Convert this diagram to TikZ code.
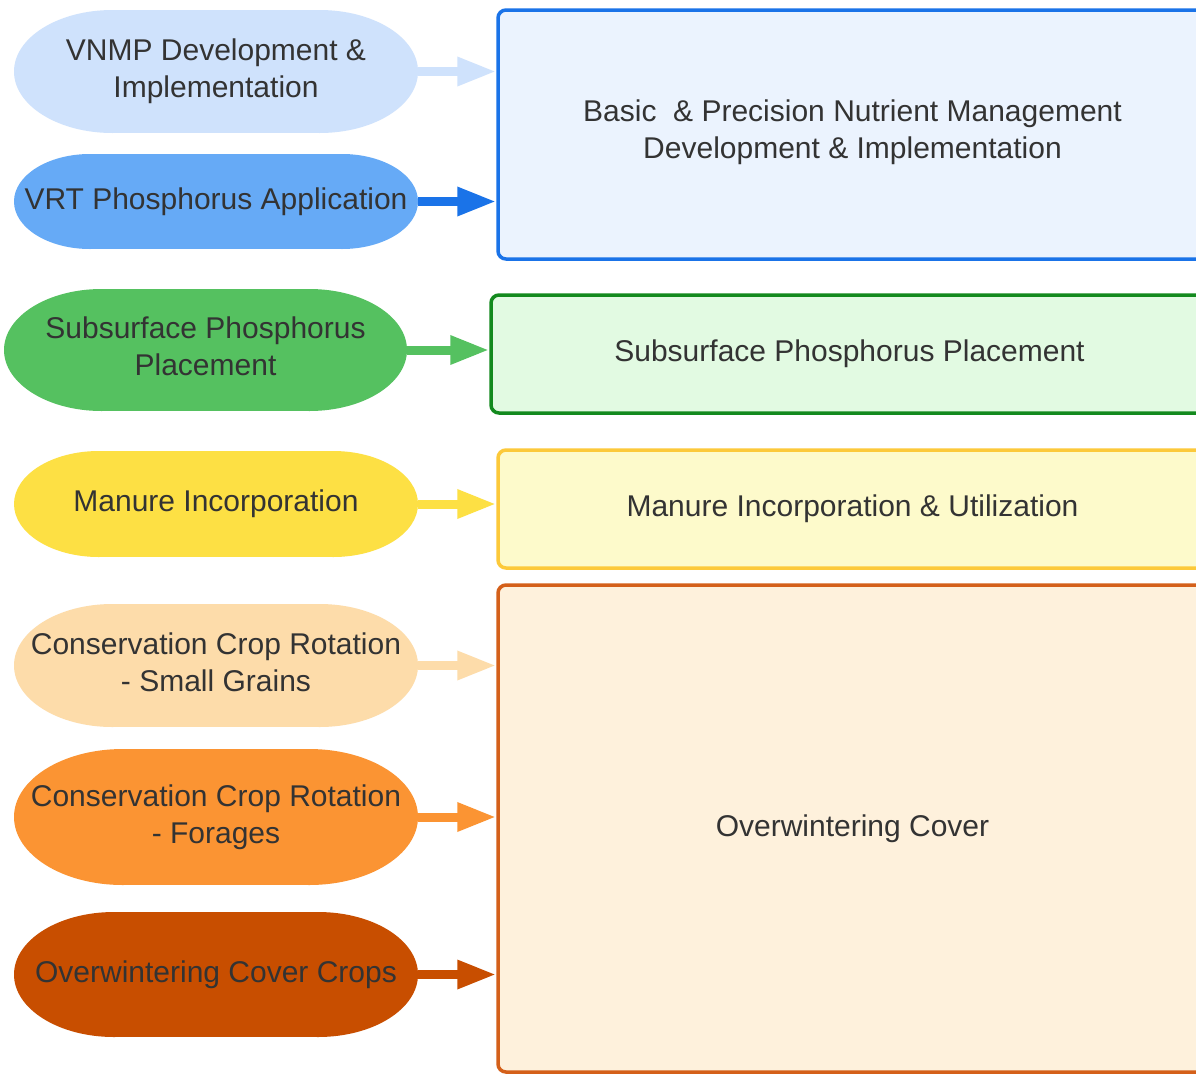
\documentclass[tikz,border=0pt]{standalone}
\usepackage{fontspec}
\setmainfont{Liberation Sans}
\usetikzlibrary{arrows.meta}
\definecolor{txt}{HTML}{333333}
\definecolor{c1}{HTML}{CFE2FC}
\definecolor{c2}{HTML}{66AAF6}
\definecolor{c2d}{HTML}{1A73E8}
\definecolor{c3}{HTML}{55C160}
\definecolor{c4}{HTML}{FDE044}
\definecolor{c5}{HTML}{FDDCAA}
\definecolor{c6}{HTML}{FB9433}
\definecolor{c7}{HTML}{C84E00}
\definecolor{b1f}{HTML}{EBF3FE}
\definecolor{b2d}{HTML}{138A1E}
\definecolor{b2f}{HTML}{E2FAE2}
\definecolor{b3d}{HTML}{FCC93A}
\definecolor{b3f}{HTML}{FDFACB}
\definecolor{b4d}{HTML}{D4601A}
\definecolor{b4f}{HTML}{FEF1DC}
% pill outline: x, y (centre), w, h, colour
\newcommand\pillfill[5]{%
  \pgfmathsetmacro\prx{0.8*#4}%
  \pgfmathsetmacro\pry{#4/2}%
  \pgfmathsetmacro\pxl{#1-#3/2+\prx}%
  \pgfmathsetmacro\pxr{#1+#3/2-\prx}%
  \fill[#5] (\pxl,#2) ellipse [x radius=\prx pt, y radius=\pry pt];
  \fill[#5] (\pxr,#2) ellipse [x radius=\prx pt, y radius=\pry pt];
  \fill[#5] (\pxl,#2-#4/2) rectangle (\pxr,#2+#4/2);
}
\begin{document}
\begin{tikzpicture}[x=1pt,y=-1pt,
  every node/.style={text=txt,font=\fontsize{30}{37}\selectfont,align=center,inner sep=0pt},
  pill/.style={draw=none,minimum width=404pt},
  bigbox/.style={line width=3.5pt,rounded corners=8pt,minimum width=709pt},
  link/.style={line width=9pt,-{Triangle[length=39pt,width=27pt]}}]
\useasboundingbox (0,0) rectangle (1196,1074);
\clip (0,0) rectangle (1196,1074);
\fill[white] (0,0) rectangle (1196,1074);
% boxes
\node[bigbox,draw=c2d,fill=b1f,minimum height=249pt] (b1) at (852.5,134.5) {};
\node (b1t) at (852.5,132) {Basic\ \ \& Precision Nutrient Management\\Development \& Implementation};
\node[bigbox,draw=b2d,fill=b2f,minimum width=717pt,minimum height=118pt] (b2) at (849.5,354) {Subsurface Phosphorus Placement};
\node[bigbox,draw=b3d,fill=b3f,minimum height=118pt] (b3) at (852.5,509) {Manure Incorporation \& Utilization};
\node[bigbox,draw=b4d,fill=b4f,minimum height=487pt] (b4) at (852.5,828.5) {Overwintering Cover};
% pills
\pillfill{216}{71.5}{404}{123}{c1}
\pillfill{216}{201.5}{404}{95}{c2}
\pillfill{205.5}{350}{403}{122}{c3}
\pillfill{216}{504}{404}{106}{c4}
\pillfill{216}{665.5}{404}{123}{c5}
\pillfill{216}{817}{404}{136}{c6}
\pillfill{216}{974.5}{404}{125}{c7}
\node[pill,minimum height=123pt] (e1) at (216,71.5) {VNMP Development \&\\Implementation};
\node[pill,minimum height=95pt] (e2) at (216,201.5) {VRT Phosphorus Application};
\node[pill,minimum width=403pt,minimum height=122pt] (e3) at (205.5,350) {};
\node (e3t) at (205.5,346) {Subsurface Phosphorus\\Placement};
\node[pill,minimum height=106pt] (e4) at (216,504) {Manure Incorporation};
\node[pill,minimum height=123pt] (e5) at (216,665.5) {};
\node (e5t) at (216,662) {Conservation Crop Rotation\\- Small Grains};
\node[pill,minimum height=136pt] (e6) at (216,817) {Conservation Crop Rotation\\- Forages};
\node[pill,minimum height=125pt] (e7) at (216,974.5) {Overwintering Cover Crops};
% arrows
\draw[link,c1] (e1.east) -- (e1.east -| b1.west);
\draw[link,c2d] (e2.east) -- (e2.east -| b1.west);
\draw[link,c3] (e3.east) -- (e3.east -| b2.west);
\draw[link,c4] (e4.east) -- (e4.east -| b3.west);
\draw[link,c5] (e5.east) -- (e5.east -| b4.west);
\draw[link,c6] (e6.east) -- (e6.east -| b4.west);
\draw[link,c7] (e7.east) -- (e7.east -| b4.west);
\end{tikzpicture}
\end{document}
